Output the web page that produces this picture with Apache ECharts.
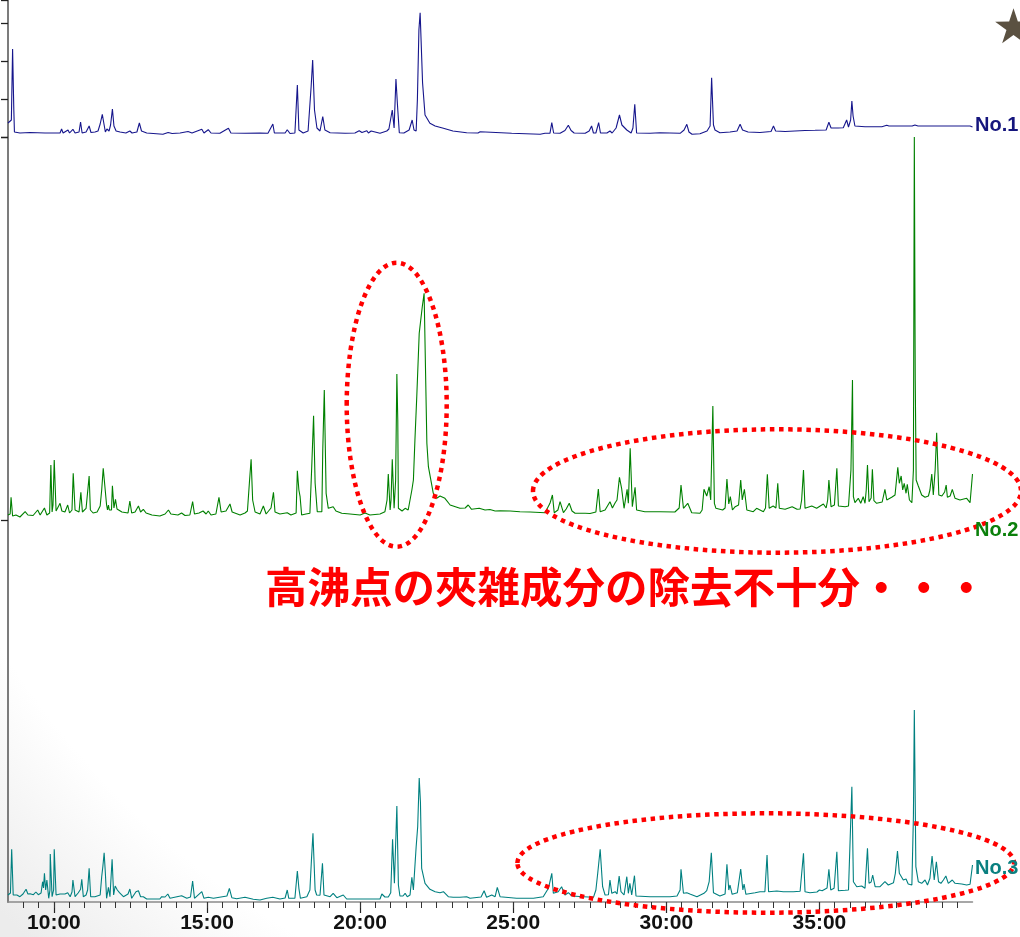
<!DOCTYPE html>
<html><head><meta charset="utf-8">
<script src="https://cdn.jsdelivr.net/npm/echarts@6/dist/echarts.min.js"></script>
<style>html,body{margin:0;padding:0;background:#fff}#c{width:1020px;height:937px}</style>
</head><body><div id="c"></div>
<script>
// ---- data (retention time in minutes, intensity in arbitrary units) ----
const majorTicks = [10, 15, 20, 25, 30, 35];
const tickLabels = ['10:00', '15:00', '20:00', '25:00', '30:00', '35:00'];
const traceNames = ['No.1', 'No.2', 'No.3'];
const noteText = '高沸点の夾雑成分の除去不十分・・・';

const no1 = [[8.50,14],[8.61,17],[8.65,88],[8.69,27],[8.71,5],[8.89,4],[9.22,4.5],[9.71,4],[10.20,4],[10.25,8],[10.30,4],[10.46,7],[10.51,4],[10.62,7.7],[10.69,4],[10.82,5],[10.87,15],[10.92,4],[11.05,5],[11.15,11],[11.21,4.5],[11.34,5],[11.44,6],[11.51,13],[11.58,22.7],[11.64,12],[11.68,5],[11.73,8],[11.80,6],[11.85,12],[11.91,28],[11.96,11],[12.03,6],[12.16,5],[12.35,4],[12.48,6],[12.55,4],[12.71,5],[12.79,14],[12.86,6],[13.03,4],[13.07,2.7],[13.56,2.7],[13.73,4.5],[13.86,3.5],[14.12,4],[14.38,5.5],[14.51,4],[14.83,7.7],[14.90,4],[15.04,7.3],[15.13,4],[15.42,3.7],[15.70,8.7],[15.78,4],[16.24,3.7],[16.73,4],[16.99,3.7],[17.15,13],[17.20,4],[17.55,4],[17.62,7.3],[17.71,3.5],[17.87,4],[17.95,52],[18.00,7],[18.14,4],[18.30,6],[18.40,50.3],[18.45,77],[18.51,27],[18.59,9],[18.69,6],[18.78,20.3],[18.85,7],[19.02,4.3],[19.51,3.7],[19.83,4],[19.97,6.3],[20.06,4.5],[20.22,6.3],[20.27,4],[20.36,6],[20.42,4],[20.65,3.7],[20.87,6],[20.94,8],[21.05,27],[21.11,9],[21.17,58],[21.22,32],[21.28,4.3],[21.43,4],[21.60,7],[21.70,17],[21.76,7],[21.83,6],[21.87,37],[21.92,107],[21.96,124.3],[22.00,123.7],[22.04,54],[22.12,22],[22.28,13.7],[22.45,11],[22.51,12],[22.72,8.7],[23.03,6],[23.48,4.3],[23.85,4],[23.92,5.3],[23.98,3.7],[24.95,3.7],[24.99,2.7],[25.88,2.7],[26.04,3.7],[26.20,3.7],[26.26,14.3],[26.32,4],[26.53,3.7],[26.69,6.5],[26.80,11.7],[26.89,6.5],[26.99,4],[27.35,3.7],[27.48,6],[27.56,11],[27.62,4],[27.70,4],[27.79,14.3],[27.85,4],[28.06,4],[28.16,6],[28.23,4],[28.36,9],[28.47,22],[28.55,12],[28.71,7],[28.85,4],[28.91,9],[28.97,32.7],[29.03,4],[29.47,3.7],[29.79,4.3],[30.45,3.7],[30.58,7],[30.67,12.7],[30.74,5],[30.84,2.7],[31.10,3.3],[31.33,6],[31.43,11],[31.48,59.3],[31.54,12],[31.59,7],[31.75,4.3],[32.08,5],[32.31,6],[32.41,12.7],[32.49,7],[32.67,5],[33.06,4.5],[33.42,5.5],[33.50,11],[33.57,6],[33.88,5.5],[34.20,6],[34.53,6.5],[34.86,6.7],[35.22,7],[35.31,14.7],[35.38,9],[35.61,9],[35.78,9.3],[35.89,17],[35.95,10],[36.02,17],[36.06,36],[36.10,21],[36.16,11],[36.49,10.3],[37.04,10.3],[37.20,11.7],[37.27,11],[38.03,11],[38.12,12],[38.22,11],[39.92,11],[40.00,10]];

const no2 = [[8.50,5],[8.57,6],[8.60,22.7],[8.65,4],[8.76,5],[8.89,3],[9.06,8.3],[9.15,5],[9.32,4.5],[9.47,10],[9.55,5],[9.69,12],[9.77,5],[9.86,7],[9.90,55],[9.94,8],[9.97,15],[10.01,60],[10.07,9],[10.13,10],[10.20,16.7],[10.26,9],[10.36,8],[10.45,15],[10.51,7],[10.59,10],[10.63,46.7],[10.69,10],[10.82,8],[10.88,27.7],[10.93,8],[10.98,10],[11.05,11.7],[11.10,10],[11.15,44],[11.19,10],[11.28,7],[11.41,8],[11.51,14],[11.56,30],[11.61,51.7],[11.66,50],[11.72,15],[11.75,10],[11.78,15],[11.81,10],[11.88,10],[11.91,34.3],[11.96,12],[12.01,20.7],[12.06,11],[12.22,8],[12.42,7],[12.48,19],[12.54,7],[12.65,8],[12.76,14],[12.83,8],[12.92,10.7],[13.01,7],[13.20,5],[13.46,4],[13.63,6],[13.74,10],[13.82,6],[14.05,5],[14.17,7],[14.28,4.5],[14.44,5],[14.53,18.3],[14.59,6],[14.74,7],[14.87,9],[14.97,6],[15.04,9],[15.13,5],[15.29,6],[15.39,22.7],[15.46,8],[15.62,9],[15.75,16],[15.82,8],[16.08,5],[16.24,7],[16.32,9],[16.39,40],[16.44,60.7],[16.49,20],[16.57,8],[16.73,6],[16.84,14],[16.93,6],[17.09,12],[17.17,27.7],[17.22,8],[17.38,6],[17.62,7.3],[17.74,5],[17.91,7],[17.95,49.3],[18.00,30],[18.04,23.3],[18.09,5],[18.23,6],[18.36,6.7],[18.42,53.3],[18.48,104.3],[18.53,37],[18.60,8.3],[18.75,8.3],[18.78,70],[18.83,130],[18.89,26.7],[18.96,11.7],[19.12,13.3],[19.21,9],[19.40,6.7],[19.67,6],[20.00,5],[20.16,7],[20.32,5],[20.65,6],[20.81,8.3],[20.88,20],[20.92,46],[20.98,10],[21.01,20],[21.05,60.7],[21.11,11.7],[21.16,40],[21.20,146],[21.23,100],[21.25,11.7],[21.37,9],[21.47,11.7],[21.57,10],[21.69,30],[21.74,40],[21.79,80],[21.85,123.3],[21.93,186.7],[22.03,213.3],[22.09,226.7],[22.13,225],[22.18,76.7],[22.23,53.3],[22.39,26.7],[22.50,21.7],[22.61,24],[22.77,21.7],[22.94,15],[23.26,11.7],[23.43,12],[23.53,15],[23.64,10.7],[23.89,11.7],[24.08,10],[24.24,10.5],[24.41,9],[24.57,9.3],[24.90,9],[25.22,8.3],[25.55,8],[26.04,7.3],[26.20,16.7],[26.28,25],[26.34,7.3],[26.46,10],[26.53,18.3],[26.64,7.3],[26.73,11],[26.83,16.7],[26.92,9],[27.02,6.7],[27.35,6.7],[27.51,6.5],[27.70,8],[27.78,31],[27.84,8.3],[28.00,10],[28.16,18.3],[28.24,12],[28.33,17.3],[28.39,20],[28.47,42.7],[28.54,31.7],[28.62,11.7],[28.72,30.7],[28.76,16.7],[28.82,71.7],[28.89,13.3],[28.98,32.7],[29.03,10],[29.30,8.3],[29.79,8.3],[30.28,8],[30.42,12],[30.48,35],[30.56,11.7],[30.70,16.7],[30.83,7.3],[31.10,6.7],[31.17,10],[31.23,30.7],[31.32,24],[31.40,33.3],[31.45,20],[31.52,114],[31.57,16.7],[31.62,11.7],[31.84,10],[31.92,12],[31.98,41],[32.04,16],[32.09,23.3],[32.16,10],[32.25,13.3],[32.36,15],[32.43,40],[32.48,20],[32.55,30.7],[32.63,10],[32.84,8.3],[32.95,11.7],[33.17,8.3],[33.24,12],[33.30,45.7],[33.36,11.7],[33.49,14],[33.58,12],[33.64,36.7],[33.69,11.7],[33.88,10.7],[34.11,13.3],[34.27,10.7],[34.37,11],[34.42,20],[34.48,50],[34.53,11.7],[34.75,14],[34.91,11.7],[35.13,16],[35.22,12],[35.27,20],[35.31,40],[35.38,13.3],[35.49,15],[35.57,51.7],[35.62,14],[35.84,13.3],[35.95,14],[36.00,15],[36.03,50],[36.08,140],[36.11,23.3],[36.16,17.3],[36.27,21.7],[36.35,16.7],[36.43,23.3],[36.49,16.7],[36.53,30],[36.57,55],[36.62,18.3],[36.69,22],[36.73,50.7],[36.78,19.3],[36.87,16.7],[37.05,18],[37.14,30.7],[37.20,20],[37.36,22.7],[37.47,25],[37.56,52.7],[37.61,36.7],[37.67,44],[37.72,30],[37.77,36.7],[37.83,26.7],[37.87,35.7],[37.94,20],[38.02,17.3],[38.07,50],[38.10,383],[38.13,140],[38.16,40],[38.23,34],[38.34,25],[38.45,22.7],[38.56,24],[38.61,30],[38.67,46],[38.72,25],[38.78,50],[38.83,87.3],[38.90,25],[39.00,24],[39.09,28],[39.14,35],[39.18,22.7],[39.27,24],[39.34,30.7],[39.43,21.7],[39.59,20],[39.81,21.7],[39.92,17.3],[40.00,46]];

const no3 = [[8.50,7],[8.58,9],[8.62,52.7],[8.67,7],[8.79,7],[8.89,5.3],[8.99,8],[9.09,12.7],[9.15,8],[9.22,8.3],[9.33,7.3],[9.41,10],[9.49,7.3],[9.58,9],[9.63,20.3],[9.66,14],[9.69,28.7],[9.73,12],[9.77,22],[9.83,3.7],[9.87,12],[9.88,48],[9.94,5.3],[9.99,12],[10.01,52.7],[10.07,7],[10.20,8],[10.25,6],[10.36,8],[10.45,9.3],[10.53,5.3],[10.59,10],[10.62,22],[10.69,5.3],[10.79,9],[10.87,12.7],[10.91,22.7],[10.96,5.3],[11.05,7],[11.10,12],[11.15,33.7],[11.20,5.3],[11.34,5.3],[11.51,7],[11.56,25.3],[11.60,36],[11.64,49.3],[11.68,28.7],[11.72,3.7],[11.78,14.7],[11.83,5.3],[11.90,42.7],[11.95,7],[12.00,16],[12.07,12],[12.14,9.3],[12.27,5.3],[12.42,8],[12.48,13],[12.54,3.7],[12.68,10.3],[12.76,11.3],[12.83,5.3],[12.92,5.3],[13.03,3],[13.46,3],[13.52,5.3],[13.63,5],[13.72,8],[13.79,3.7],[14.17,6.3],[14.34,3.7],[14.46,5],[14.53,21],[14.59,3.7],[14.83,10.3],[14.90,3.7],[15.04,4.7],[15.21,3.7],[15.65,6],[15.73,13.7],[15.81,4.3],[15.97,3.3],[16.24,4.7],[16.51,2.7],[16.73,2],[16.95,3.7],[17.15,4.7],[17.38,3],[17.55,4],[17.62,12],[17.67,3.7],[17.87,3.7],[17.95,31],[18.00,13.7],[18.05,3.7],[18.26,5.3],[18.36,12],[18.41,42],[18.46,68.7],[18.53,12],[18.58,7],[18.69,6.7],[18.77,38.7],[18.82,7],[19.02,5.3],[19.12,8.7],[19.24,4.3],[19.45,7],[19.56,3],[20.65,3],[20.71,8],[20.81,5],[20.92,5],[21.00,9.3],[21.06,62.7],[21.12,18.7],[21.20,96],[21.25,17],[21.30,6],[21.40,6],[21.47,8.7],[21.54,5.3],[21.63,7],[21.69,24.7],[21.74,12],[21.83,55.3],[21.88,75.3],[21.93,124],[21.97,100],[22.01,33.7],[22.12,18.7],[22.28,12.7],[22.45,10.3],[22.61,9.3],[22.72,10.3],[22.88,5.3],[23.04,4.7],[23.26,4.7],[23.48,5.3],[23.59,3.7],[23.95,5],[24.05,11.3],[24.13,4.7],[24.30,7],[24.41,5.3],[24.48,14.7],[24.57,5.3],[25.11,3.7],[25.66,3.7],[25.98,5.3],[26.15,13.7],[26.26,28.7],[26.31,8.7],[26.47,10.3],[26.58,15.3],[26.69,7],[26.80,9.3],[26.92,6],[27.29,5.3],[27.62,4.7],[27.70,12],[27.76,28.7],[27.84,52.7],[27.92,15.3],[28.00,7],[28.11,7.3],[28.16,22],[28.22,8.7],[28.33,10.3],[28.39,8],[28.46,26],[28.52,10.3],[28.62,7],[28.71,25.3],[28.76,8.7],[28.81,18.7],[28.87,7],[28.96,26.3],[29.01,6],[29.47,5.3],[30.12,5.3],[30.35,6],[30.45,12],[30.48,32.7],[30.56,8.7],[30.67,9.3],[30.77,8],[31.00,5.3],[31.23,8.7],[31.32,11.3],[31.40,20.3],[31.47,49.3],[31.54,9.3],[31.75,6],[31.92,8],[31.98,37.7],[32.04,12],[32.08,17],[32.15,7.7],[32.32,9.3],[32.43,33],[32.50,12],[32.54,18],[32.60,7.7],[32.90,9.3],[33.06,10.3],[33.22,10.3],[33.29,47],[33.34,10.3],[33.61,11],[33.82,10.3],[34.15,10.3],[34.37,10.7],[34.48,48.7],[34.53,10.3],[34.69,9.3],[34.92,10],[35.00,12],[35.09,11.3],[35.25,14],[35.31,32.7],[35.37,12],[35.48,13.7],[35.57,50.3],[35.62,11.3],[35.84,11.7],[35.95,12],[36.00,13.7],[36.06,115.3],[36.11,20.3],[36.22,15.3],[36.38,16],[36.49,13.7],[36.57,53.7],[36.62,18.7],[36.69,20],[36.74,27],[36.82,15.3],[36.98,15.3],[37.14,20.3],[37.25,17],[37.42,19.3],[37.48,28.7],[37.55,51],[37.61,28.7],[37.67,30.3],[37.74,22],[37.83,23],[37.90,18],[38.02,17],[38.07,85.3],[38.10,192],[38.15,35.3],[38.23,20.3],[38.34,18.7],[38.45,22],[38.53,17],[38.61,23.7],[38.68,46],[38.75,22],[38.82,40.3],[38.89,20.3],[38.97,18.7],[39.05,22],[39.13,26],[39.21,18.7],[39.34,22],[39.43,18.7],[39.65,18],[39.81,17],[39.92,17.7],[40.00,37]];

// ---- tick positions for 30 s minor ticks ----
const minorTicks = [];
for (let t = 9; t < 40; t += 0.5) minorTicks.push(t);

const X_MIN = 8.5, X_MAX = 40;
const colors = ['#16168c', '#008000', '#008080'];

const chart = echarts.init(document.getElementById('c'), null, {renderer: 'canvas'});

const axisGray = {color: '#7c7c7c', width: 2};
function hiddenX(i) {
  return {type: 'value', gridIndex: i, min: X_MIN, max: X_MAX, show: false};
}

// star annotation shape
const starPts = [];
for (let k = 0; k < 10; k++) {
  const a = k * Math.PI / 5;
  const r = k % 2 === 0 ? 19.3 : 7.4;
  starPts.push([1013.5 + r * Math.sin(a), 27.6 - r * Math.cos(a)]);
}

const dotted = {fill: 'none', stroke: '#ff0000', lineWidth: 4.5, lineDash: [4.5, 4.6]};

const option = {
  animation: false,
  backgroundColor: {
    type: 'radial', x: 0.72, y: 0.2, r: 1.1,
    colorStops: [{offset: 0, color: '#ffffff'}, {offset: 0.84, color: '#ffffff'}, {offset: 1, color: '#ececec'}]
  },
  grid: [
    {left: 8, right: 47.5, top: 0, height: 137},
    {left: 8, right: 47.5, top: 137, height: 383},
    {left: 8, right: 47.5, top: 520, height: 382},
    {left: 8, right: 47.5, top: 520, height: 382}
  ],
  xAxis: [
    hiddenX(0),
    hiddenX(1),
    {
      type: 'value', gridIndex: 2, min: X_MIN, max: X_MAX, position: 'bottom',
      axisLine: {show: true, onZero: false, lineStyle: {color: '#8a8a8a', width: 1.5}},
      axisTick: {show: true, customValues: majorTicks, length: 11, lineStyle: {color: '#222', width: 1.2}},
      axisLabel: {
        show: true, customValues: majorTicks, margin: 11,
        formatter: v => { const i = majorTicks.indexOf(Math.round(v)); return i >= 0 ? tickLabels[i] : ''; },
        fontFamily: 'Liberation Sans', fontWeight: 'bold', fontSize: 21, color: '#111'
      },
      splitLine: {show: false}
    },
    {
      type: 'value', gridIndex: 3, min: X_MIN, max: X_MAX, position: 'bottom',
      axisLine: {show: false, onZero: false},
      axisTick: {show: true, customValues: minorTicks, length: 6, lineStyle: {color: '#333', width: 1}},
      axisLabel: {show: false},
      splitLine: {show: false}
    }
  ],
  yAxis: [
    {type: 'value', gridIndex: 0, min: 0, max: 137, interval: 38,
      axisLine: {show: true, onZero: false, lineStyle: axisGray},
      axisTick: {show: true, length: 7, lineStyle: {color: '#222', width: 1.3}},
      axisLabel: {show: false}, splitLine: {show: false}},
    {type: 'value', gridIndex: 1, min: 0, max: 383, interval: 383,
      axisLine: {show: true, onZero: false, lineStyle: axisGray},
      axisTick: {show: true, length: 7, lineStyle: {color: '#222', width: 1.3}},
      axisLabel: {show: false}, splitLine: {show: false}},
    {type: 'value', gridIndex: 2, min: 0, max: 382,
      axisLine: {show: true, onZero: false, lineStyle: axisGray},
      axisTick: {show: false}, axisLabel: {show: false}, splitLine: {show: false}},
    {type: 'value', gridIndex: 3, min: 0, max: 382, show: false}
  ],
  series: [no1, no2, no3].map((d, i) => ({
    name: traceNames[i], type: 'line', xAxisIndex: i, yAxisIndex: i,
    data: d, showSymbol: false, symbol: 'none', silent: true, clip: false,
    lineStyle: {color: colors[i], width: 1.1}
  })),
  graphic: [
    {type: 'ellipse', z: 100, silent: true, shape: {cx: 396.7, cy: 404.7, rx: 50, ry: 142}, style: dotted},
    {type: 'ellipse', z: 100, silent: true, shape: {cx: 777, cy: 491, rx: 244, ry: 61.7}, style: dotted},
    {type: 'ellipse', z: 100, silent: true, shape: {cx: 765.7, cy: 863, rx: 248.3, ry: 49.7}, style: dotted},
    {type: 'text', z: 101, x: 265, y: 587, style: {text: noteText, fill: '#ff0000',
      font: 'bold 42.5px "Noto Sans CJK JP"', textVerticalAlign: 'middle'}},
    {type: 'text', z: 101, x: 975, y: 125.5, style: {text: traceNames[0], fill: '#15157d',
      font: 'bold 20px "Liberation Sans"', textVerticalAlign: 'middle'}},
    {type: 'text', z: 101, x: 975, y: 530.5, style: {text: traceNames[1], fill: '#0b800b',
      font: 'bold 20px "Liberation Sans"', textVerticalAlign: 'middle'}},
    {type: 'text', z: 101, x: 975, y: 868.5, style: {text: traceNames[2], fill: '#0a8080',
      font: 'bold 20px "Liberation Sans"', textVerticalAlign: 'middle'}},
    {type: 'polygon', z: 101, shape: {points: starPts}, style: {fill: '#5b5141'}}
  ]
};
chart.setOption(option);
</script>
</body></html>
